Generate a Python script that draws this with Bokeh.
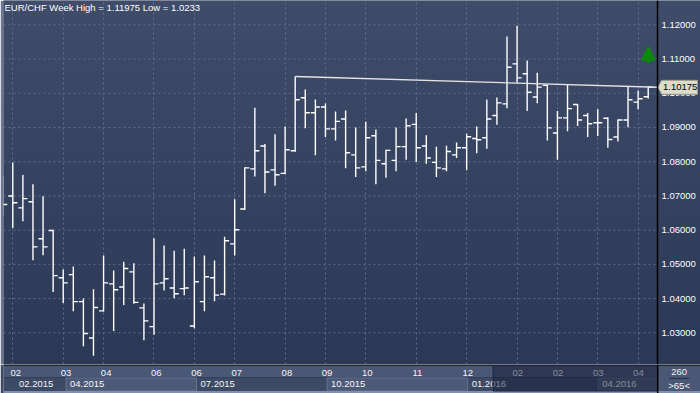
import numpy as np
from bokeh.plotting import figure
from bokeh.models import (Range1d, FixedTicker, Grid, Label, Arrow, NormalHead, Span)
from bokeh.layouts import column
from bokeh.embed import file_html
from bokeh.resources import INLINE
from bokeh.core.properties import value

# ---------------- data ----------------
symbol = "EUR/CHF"
period = "Week"

opens = [1.0690, 1.0700, 1.0665, 1.0683, 1.0575, 1.0599, 1.0461, 1.0470, 1.0391, 1.0285,
         1.0364, 1.0443, 1.0434, 1.0478, 1.0373, 1.0318, 1.0446, 1.0431, 1.0429, 1.0320,
         1.0391, 1.0461, 1.0413, 1.0560, 1.0662, 1.0779, 1.0846, 1.0776, 1.0766, 1.0832,
         1.0987, 1.0943, 1.0960, 1.0896, 1.0925, 1.0820, 1.0785, 1.0876, 1.0794, 1.0804,
         1.0844, 1.0909, 1.0846, 1.0798, 1.0779, 1.0820, 1.0841, 1.0868, 1.0870, 1.0935,
         1.0969, 1.1086, 1.1057, 1.0989, 1.1023, 1.0884, 1.0928, 1.0967, 1.0935, 1.0914,
         1.0927, 1.0872, 1.0922, 1.0974, 1.0990]
highs = [1.0760, 1.0798, 1.0761, 1.0734, 1.0699, 1.0601, 1.0485, 1.0494, 1.0400, 1.0427,
         1.0526, 1.0482, 1.0508, 1.0503, 1.0386, 1.0576, 1.0555, 1.0540, 1.0546, 1.0523,
         1.0526, 1.0511, 1.0581, 1.0690, 1.0784, 1.0958, 1.0852, 1.0880, 1.0903, 1.1049,
         1.1011, 1.0982, 1.0970, 1.0947, 1.0950, 1.0900, 1.0917, 1.0894, 1.0835, 1.0900,
         1.0926, 1.0942, 1.0877, 1.0844, 1.0847, 1.0856, 1.0882, 1.0903, 1.0982, 1.0988,
         1.1166, 1.11975, 1.1096, 1.1060, 1.1025, 1.0948, 1.1025, 1.0969, 1.0942, 1.0953,
         1.0930, 1.0923, 1.1018, 1.1008, 1.1020]
lows = [1.0640, 1.0606, 1.0626, 1.0512, 1.0527, 1.0419, 1.0387, 1.0363, 1.0261, 1.0233,
        1.0362, 1.0305, 1.0381, 1.0385, 1.0278, 1.0294, 1.0424, 1.0401, 1.0410, 1.0313,
        1.0363, 1.0392, 1.0409, 1.0526, 1.0659, 1.0757, 1.0708, 1.0730, 1.0763, 1.0829,
        1.0898, 1.0819, 1.0872, 1.0862, 1.0781, 1.0755, 1.0772, 1.0734, 1.0753, 1.0772,
        1.0806, 1.0799, 1.0794, 1.0755, 1.0772, 1.0811, 1.0775, 1.0825, 1.0838, 1.0908,
        1.0956, 1.1031, 1.0948, 1.0971, 1.0862, 1.0806, 1.0889, 1.0904, 1.0872, 1.0875,
        1.0841, 1.0859, 1.0901, 1.0953, 1.0985]
closes = [1.0675, 1.0680, 1.0692, 1.0551, 1.0551, 1.0467, 1.0446, 1.0391, 1.0298, 1.0374,
          1.0446, 1.0426, 1.0488, 1.0389, 1.0335, 1.0443, 1.0458, 1.0414, 1.0431, 1.0449,
          1.0464, 1.0410, 1.0569, 1.0601, 1.0782, 1.0832, 1.0770, 1.0762, 1.0835, 1.0981,
          1.0943, 1.0960, 1.0896, 1.0918, 1.0826, 1.0782, 1.0870, 1.0804, 1.0833, 1.0844,
          1.0905, 1.0841, 1.0811, 1.0782, 1.0830, 1.0841, 1.0873, 1.0864, 1.0925, 1.0972,
          1.1076, 1.1045, 1.1003, 1.1018, 1.0899, 1.0928, 1.0955, 1.0922, 1.0911, 1.0914,
          1.0865, 1.0922, 1.0981, 1.0984, 1.10175]

price_ticks = [1.03, 1.04, 1.05, 1.06, 1.07, 1.08, 1.09, 1.10, 1.11, 1.12]
price_tick_labels = ["1.03000", "1.04000", "1.05000", "1.06000", "1.07000",
                     "1.08000", "1.09000", "1.10000", "1.11000", "1.12000"]
month_ticks = [1, 6, 10, 15, 19, 23, 28, 32, 36, 41, 46, 51, 55, 59, 63]
month_labels = ["02", "03", "04", "06", "06", "07", "08", "09", "10", "11", "12", "02", "02", "03", "04"]
quarter_starts = [0, 6, 19, 32, 46, 59]
quarter_labels = ["02.2015", "04.2015", "07.2015", "10.2015", "01.2016", "04.2016"]
total_bars_label = "260"
visible_bars_label = ">65<"

# ---------------- layout constants ----------------
FONT = "Liberation Sans"
FS = "9.5px"
W, H_MAIN, H_BOT = 700, 364, 29
LEFT_B, RIGHT_B = 3, 43
x_start, x_end = 0.078, 64.922          # visible bar window
y_start, y_end = 1.02074, 1.12711
ppb = (W - LEFT_B - RIGHT_B) / (x_end - x_start)   # px per bar
ppv = H_MAIN / (y_end - y_start)                   # px per price unit
x_right = x_end + RIGHT_B / ppb

idx = np.arange(len(closes))
tick = 0.45
txt = dict(text_font=value(FONT), text_font_size=FS)

# ---------------- main chart ----------------
p = figure(width=W, height=H_MAIN, x_range=Range1d(x_start, x_right), y_range=Range1d(y_start, y_end),
           toolbar_location=None, output_backend="svg", x_axis_location=None, y_axis_location=None,
           min_border_left=LEFT_B, min_border_right=0, min_border_top=0, min_border_bottom=0)
p.outline_line_color = None
p.border_fill_color = "#6c7893"
p.background_fill_color = "#35425f"
for g in p.grid:
    g.visible = False

# vertical gradient background
N = 64
top_c = np.array([63, 76, 106], dtype=float)
bot_c = np.array([43, 56, 86], dtype=float)
t = np.linspace(0, 1, N)[:, None]
cols = bot_c + (top_c - bot_c) * t
img = np.empty((N, 2), dtype=np.uint32)
view = img.view(dtype=np.uint8).reshape((N, 2, 4))
for k in range(3):
    view[:, :, k] = cols[:, k][:, None].astype(np.uint8)
view[:, :, 3] = 255
p.image_rgba(image=[img], x=x_start, y=y_start, dw=x_right - x_start, dh=y_end - y_start, level="image")

grid_color = "#606d8b"
p.add_layout(Grid(dimension=0, ticker=FixedTicker(ticks=month_ticks), grid_line_color=grid_color,
                  grid_line_dash="2 3", grid_line_width=1))
p.segment(x0=x_start, y0=price_ticks, x1=x_end, y1=price_ticks, line_color=grid_color,
          line_dash="2 3", line_width=1)

# price scale (right)
p.add_layout(Span(location=x_end, dimension="height", line_color="black", line_width=1.5))
p.text(x=[x_end] * len(price_ticks), y=price_ticks, text=price_tick_labels, x_offset=4,
       text_align="left", text_baseline="middle", text_color="white", **txt)

# OHLC bars
bar_kw = dict(line_color="white", line_width=1.4)
p.segment(x0=idx, y0=lows, x1=idx, y1=highs, **bar_kw)
p.segment(x0=idx - tick, y0=opens, x1=idx, y1=opens, **bar_kw)
p.segment(x0=idx, y0=closes, x1=idx + tick, y1=closes, **bar_kw)

# trend line from the swing high to the last close level
anchor = int(np.argmax(highs[:45]))
p.segment(x0=[anchor], y0=[highs[anchor]], x1=[x_end], y1=[closes[-1]],
          line_color="#e4e4e4", line_width=1.4)

# green up arrow
p.add_layout(Arrow(end=NormalHead(size=14, fill_color="#0b8a0b", line_color="#0b8a0b"),
                   x_start=idx[-1], y_start=closes[-1] + 0.0072,
                   x_end=idx[-1], y_end=closes[-1] + 0.0120,
                   line_color="#0b8a0b", line_width=4))

# last price tag
last = closes[-1]
tag_px = [(0.5, 0), (4, 7), (40, 7), (40, -7), (4, -7)]
p.patch(x=[x_end + dx / ppb for dx, dy in tag_px], y=[last + dy / ppv for dx, dy in tag_px],
        fill_color="#dcdccb", line_color="#9a9a8a", line_width=1)
p.text(x=[x_end], y=[last], text=[f"{last:.5f}"], x_offset=5.5, text_align="left",
       text_baseline="middle", text_color="black", **txt)

def fmt(v):
    return f"{v:.5f}".rstrip("0")

title = f"{symbol} {period} High = {fmt(max(highs))} Low = {fmt(min(lows))}"
p.add_layout(Label(x=x_start, y=y_end, text=title, x_offset=1, y_offset=-1,
                   text_baseline="top", text_align="left", text_color="white",
                   text_font=FONT, text_font_size=FS))

# ---------------- bottom time axis strip ----------------
bx0 = x_start - LEFT_B / ppb
bx1 = x_right
pb = figure(width=W, height=H_BOT, x_range=Range1d(bx0, bx1), y_range=Range1d(H_BOT, 0),
            toolbar_location=None, output_backend="svg", x_axis_location=None, y_axis_location=None,
            min_border=0)
pb.outline_line_color = None
pb.background_fill_color = "#3d4a66"
pb.border_fill_color = "#3d4a66"
for g in pb.grid:
    g.visible = False

pb.quad(left=[bx0], right=[bx1], top=[0], bottom=[1.2], fill_color="black", line_color=None)
pb.quad(left=[bx0], right=[x_end], top=[1.2], bottom=[12.5], fill_color="#4a5775", line_color=None)
pb.quad(left=[bx0], right=[x_end], top=[12.5], bottom=[13.5], fill_color="#34405b", line_color=None)

q_ends = quarter_starts[1:] + [x_end]
light_l = [s for k, s in enumerate(quarter_starts) if k % 2 == 1]
light_r = [e for k, e in enumerate(q_ends) if k % 2 == 1]
pb.quad(left=light_l, right=light_r, top=13.5, bottom=26.5, fill_color="#4d5a77",
        line_color="#66738f", line_width=1)
pb.quad(left=[bx0], right=[bx1], top=[26.5], bottom=[29], fill_color="#8490a9", line_color=None)

pb.text(x=month_ticks, y=[8.3] * len(month_ticks), text=month_labels, text_align="center",
        text_baseline="middle", text_color="#f4f4f4", **txt)

pb.text(x=[(max(quarter_starts[0], x_start) + q_ends[0]) / 2], y=[19.8], text=[quarter_labels[0]],
        text_align="center", text_baseline="middle", text_color="#f4f4f4", **txt)
pb.text(x=[s + 4 / ppb for s in quarter_starts[1:]], y=[19.8] * (len(quarter_starts) - 1),
        text=quarter_labels[1:], text_align="left", text_baseline="middle", text_color="#f4f4f4", **txt)

# scroll window overlay (dims the most recent section)
pb.quad(left=[48.53], right=[x_end], top=[1.2], bottom=[26.5], fill_color="#111a33",
        fill_alpha=0.5, line_color="#1c2540", line_width=1)

# right info box
cx = (x_end + bx1) / 2
pb.quad(left=[x_end], right=[bx1], top=[1.2], bottom=[26.5], fill_color="#4a5775", line_color=None)
pb.segment(x0=[x_end], y0=[0], x1=[x_end], y1=[H_BOT], line_color="black", line_width=1.5)
pb.segment(x0=[cx - 1.0], y0=[14], x1=[cx + 1.0], y1=[14], line_color="#263049", line_width=1)
pb.text(x=[cx], y=[7.8], text=[total_bars_label], text_align="center", text_baseline="middle",
        text_color="#f4f4f4", **txt)
pb.text(x=[cx], y=[20.5], text=[visible_bars_label], text_align="center", text_baseline="middle",
        text_color="#f4f4f4", **txt)

layout = column(p, pb, spacing=0)
open("out.html", "w").write(file_html(layout, INLINE))
